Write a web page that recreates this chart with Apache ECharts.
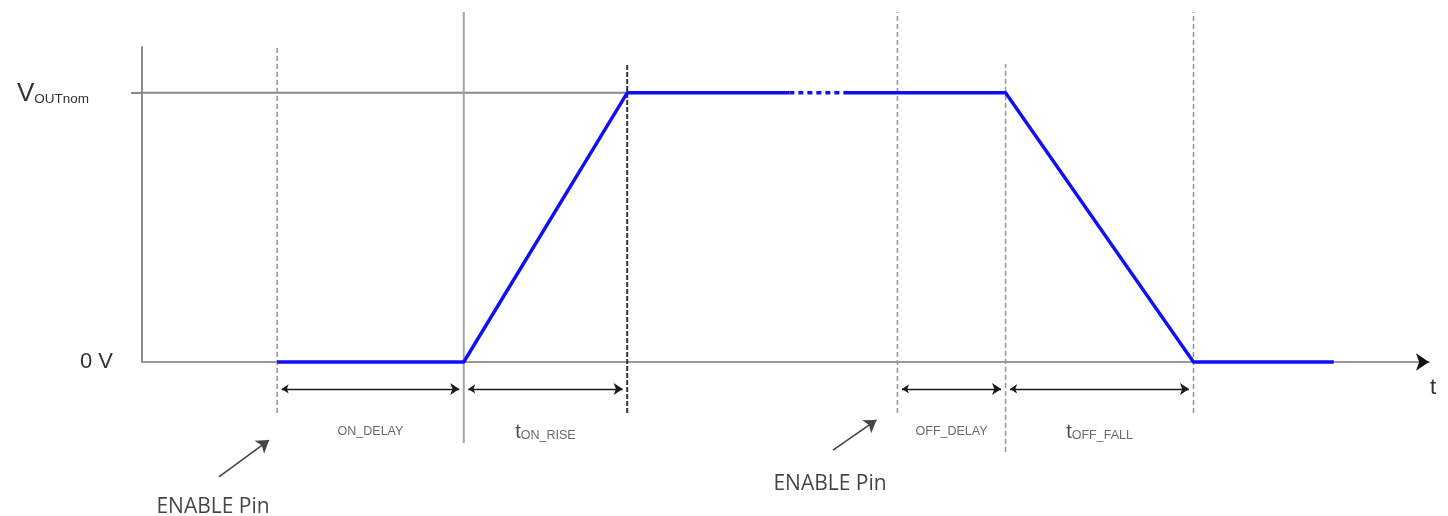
<!DOCTYPE html>
<html><head><meta charset="utf-8">
<script src="https://cdn.jsdelivr.net/npm/echarts@6/dist/echarts.min.js"></script>
<style>html,body{margin:0;padding:0;background:#fff}#c{width:1448px;height:516px}</style>
</head><body><div id="c"></div>
<script>
// ---- data (time in arbitrary units, voltage normalised to VOUTnom = 1) ----
const waveTime = [10.5, 25.0, 37.7, 50.3, 54.5, 67.1, 81.7, 92.6];
const waveVolt = [0, 0, 1, 1, 1, 1, 0, 0];
const dottedFrom = 3, dottedTo = 4;          // indices of the elided ("....") part
const enableTimes = [10.5, 58.7];            // ENABLE pin events
const intervalNames = ['ON_DELAY', 'tON_RISE', 'OFF_DELAY', 'tOFF_FALL'];
const intervalStart = [10.5, 25.0, 58.7, 67.1];
const intervalEnd   = [25.0, 37.7, 67.1, 81.7];
const yTickValues = [0, 1];
const yTickLabels = ['0 V', 'VOUTnom'];
const enableLabel = 'ENABLE Pin';
const axisName = 't';

// ---- layout ----
const X_MAX = 100, Y_MAX = 1.17;
const DIM_Y = -0.100, LBL_Y = -0.26;
const GRAY = '#9a9a9a', DASH = [5, 3];
const FONT = '"Liberation Sans", Arial, sans-serif';

function pts(a, b) { const o = []; for (let i = a; i <= b; i++) o.push([waveTime[i], waveVolt[i]]); return o; }
function vline(x, y0, y1, color, width, type) {
  return { type: 'line', data: [[x, y0], [x, y1]], symbol: 'none', clip: false, silent: true,
    lineStyle: { color, width, type }, z: 1 };
}

const series = [];
// reference line at VOUTnom
series.push({ type: 'line', data: [[0, 1], [waveTime[2], 1]], symbol: 'none', clip: false,
  lineStyle: { color: '#8a8a8a', width: 2 }, z: 1 });
// vertical markers
series.push(vline(enableTimes[0], -0.189, 1.17, GRAY, 1.6, DASH));
series.push(vline(intervalStart[1], -0.301, 1.30, '#a5a5a5', 2, 'solid'));
series.push(vline(intervalEnd[1], -0.189, 1.107, '#333', 2, [5, 2]));
series.push(vline(enableTimes[1], -0.189, 1.30, GRAY, 1.6, DASH));
series.push(vline(intervalStart[3], -0.334, 1.107, GRAY, 1.6, DASH));
series.push(vline(intervalEnd[3], -0.189, 1.30, GRAY, 1.6, DASH));
// waveform
const BLUE = '#0f0ff5';
series.push({ type: 'line', data: pts(0, dottedFrom), symbol: 'none', clip: false,
  lineStyle: { color: BLUE, width: 3.4, join: 'round' }, z: 5 });
series.push({ type: 'line', data: pts(dottedFrom, dottedTo), symbol: 'none', clip: false,
  lineStyle: { color: BLUE, width: 3.4, type: [5, 4] }, z: 5 });
series.push({ type: 'line', data: pts(dottedTo, waveTime.length - 1), symbol: 'none', clip: false,
  lineStyle: { color: BLUE, width: 3.4, join: 'round' }, z: 5 });
// x-axis arrow head (dark)
series.push({ type: 'lines', coordinateSystem: 'cartesian2d', clip: false, polyline: false,
  symbol: ['none', 'arrow'], symbolSize: [9, 13],
  lineStyle: { color: '#111', width: 0.01, opacity: 1 },
  data: [{ coords: [[X_MAX - 0.5, 0], [X_MAX, 0]] }], z: 6 });
// dimension arrows
series.push({ type: 'lines', coordinateSystem: 'cartesian2d', clip: false, polyline: false,
  symbol: ['arrow', 'arrow'], symbolSize: [7, 9],
  lineStyle: { color: '#1a1a1a', width: 1.3, opacity: 1, curveness: 0 },
  data: intervalStart.map((s, i) => ({ coords: [[s + 0.35, DIM_Y], [intervalEnd[i] - 0.35, DIM_Y]] })), z: 6 });
// ENABLE pin pointer arrows
series.push({ type: 'lines', coordinateSystem: 'cartesian2d', clip: false, polyline: false,
  symbol: ['none', 'arrow'], symbolSize: [10, 12],
  lineStyle: { color: '#444', width: 1.6, opacity: 1 },
  data: [
    { coords: [[enableTimes[0] - 4.52, -0.427], [enableTimes[0] - 0.63, -0.290]] },
    { coords: [[enableTimes[1] - 5.01, -0.327], [enableTimes[1] - 1.63, -0.215]] }
  ], z: 6 });
// interval labels
function intervalRich(name) {
  if (name.charAt(0) === 't') return '{t|t}{s|' + name.slice(1) + '}';
  return '{s|' + name + '}';
}
series.push({ type: 'scatter', symbolSize: 1, clip: false, silent: true,
  itemStyle: { color: 'rgba(0,0,0,0)' },
  data: intervalNames.map((n, i) => ({ value: [(intervalStart[i] + intervalEnd[i]) / 2, LBL_Y], name: n })),
  label: { show: true, position: 'inside', fontFamily: FONT,
    formatter: p => intervalRich(p.name),
    rich: { t: { fontSize: 20, color: '#222', fontFamily: FONT, verticalAlign: 'bottom' },
            s: { fontSize: 12.5, color: '#444', fontFamily: FONT, verticalAlign: 'bottom' } } }, z: 7 });
// ENABLE Pin labels
series.push({ type: 'scatter', symbolSize: 1, clip: false, silent: true,
  itemStyle: { color: 'rgba(0,0,0,0)' },
  data: [[enableTimes[0] - 4.98, -0.537], [enableTimes[1] - 5.24, -0.455]],
  label: { show: true, position: 'inside', formatter: enableLabel,
    fontFamily: '"Open Sans", "Noto Sans", sans-serif', fontSize: 21, color: '#151515' }, z: 7 });

const chart = echarts.init(document.getElementById('c'), null, { renderer: 'canvas' });
chart.setOption({
  animation: false,
  backgroundColor: '#fff',
  grid: { left: 142, right: 19, top: 47, bottom: 154, containLabel: false },
  xAxis: { type: 'value', min: 0, max: X_MAX,
    axisLine: { show: true, symbol: ['none', 'none'],
      lineStyle: { color: '#9a9a9a', width: 2.2 } },
    axisTick: { show: false }, axisLabel: { show: false }, splitLine: { show: false },
    name: axisName, nameLocation: 'end', nameGap: 4,
    nameTextStyle: { fontSize: 22, color: '#333', fontFamily: FONT, align: 'center', verticalAlign: 'top', padding: [15, 0, 0, 0] } },
  yAxis: { type: 'value', min: 0, max: Y_MAX,
    axisLine: { show: true, lineStyle: { color: '#8a8a8a', width: 2 } },
    axisTick: { show: true, customValues: [1], length: 11, inside: false, lineStyle: { color: '#8a8a8a', width: 2 } },
    splitLine: { show: false },
    axisLabel: { show: true, customValues: yTickValues, margin: 29,
      formatter: v => {
        const i = yTickValues.indexOf(v);
        if (i < 0) return '';
        const s = yTickLabels[i];
        return s.charAt(0) === 'V' && s.length > 1 ? '{v|V}{s|' + s.slice(1) + '}' : '{n|' + s + '}';
      },
      rich: { n: { fontSize: 22, color: '#333', fontFamily: FONT },
              v: { fontSize: 26, color: '#333', fontFamily: FONT, verticalAlign: 'bottom', lineHeight: 28 },
              s: { fontSize: 13.5, color: '#333', fontFamily: FONT, verticalAlign: 'bottom', padding: [0, 24, 0, 0] } } } },
  series
});
</script></body></html>
